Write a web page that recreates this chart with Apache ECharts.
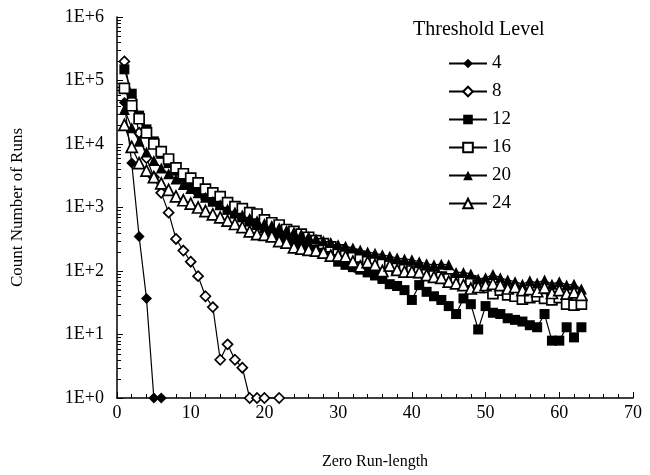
<!DOCTYPE html>
<html>
<head>
<meta charset="utf-8">
<script src="https://cdn.jsdelivr.net/npm/echarts@6/dist/echarts.min.js"></script>
<style>
  html, body { margin: 0; padding: 0; background: #fff; }
  #chart { width: 650px; height: 475px; }
</style>
</head>
<body>
<div id="chart"></div>
<script>
// run lengths 1..63
const runLength = []
for (let i = 1; i <= 63; i++) runLength.push(i)

const xTicks = [0, 10, 20, 30, 40, 50, 60, 70]
const yTicks = ['1E+0', '1E+1', '1E+2', '1E+3', '1E+4', '1E+5', '1E+6']
const levels = ['4', '8', '12', '16', '20', '24']

const level4 = [45000, 5000, 350, 37, 1, 1]
const level8 = [200000, 50000, 15000, 6000, 3000, 1700, 830, 320, 210, 140, 83, 40, 27, 4, 7, 4, 3, 1, 1, 1, null, 1]
const level12 = [150000, 62000, 28000, 17000, 11000, 7000, 5000, 3800, 3000, 2300,
  1900, 1550, 1300, 1100, 920, 800, 700, 600, 530, 470,
  420, 370, 330, 300, 270, 240, 210, 190, 170, 140,
  125, 115, 105, 95, 85, 75, 62, 58, 50, 35,
  60, 47, 40, 35, 28, 21, 37, 30, 12, 28,
  22, 21, 18, 17, 16, 14, 13, 21, 8, 8,
  13, 9, 13]
const level16 = [75000, 40000, 25000, 15000, 10000, 7600, 5800, 4200, 3400, 2900,
  2450, 1950, 1700, 1480, 1190, 1030, 960, 830, 790, 640,
  575, 530, 450, 420, 380, 340, 300, 270, 240, 215,
  195, 180, 165, 150, 140, 130, 120, 110, 105, 100,
  95, 88, 84, 80, 75, 72, 68, 70, 60, 55,
  44, 50, 42, 40, 36, 38, 40, 37, 35, 38,
  30, 29, 30]
const level20 = [35000, 18000, 11000, 7500, 5500, 4200, 3400, 2800, 2300, 2000,
  1700, 1450, 1250, 1100, 950, 850, 760, 680, 620, 560,
  520, 480, 440, 410, 380, 350, 320, 300, 280, 260,
  245, 230, 215, 200, 190, 180, 170, 160, 155, 150,
  140, 130, 125, 128, 125, 95, 95, 90, 75, 78,
  88, 78, 72, 68, 62, 70, 65, 72, 62, 68,
  60, 62, 52]
const level24 = [20000, 9000, 5000, 3800, 3000, 2400, 1900, 1500, 1300, 1150,
  1000, 880, 780, 700, 620, 550, 490, 420, 380, 370,
  350, 295, 280, 235, 225, 215, 210, 195, 175, 175,
  170, 140, 118, 138, 125, 100, 122, 104, 98, 98,
  96, 86, 81, 78, 68, 64, 60, 53, 56, 60,
  63, 60, 53, 56, 50, 52, 48, 55, 45, 50,
  44, 46, 42]

const serif = 'Liberation Serif'
const pairs = arr => arr.map((v, i) => [runLength[i], v])

function makeSeries(name, values, symbol, filled, size) {
  return {
    name: name,
    type: 'line',
    data: pairs(values),
    symbol: symbol,
    symbolSize: size,
    connectNulls: true,
    showSymbol: true,
    lineStyle: { color: '#000', width: 1.2 },
    itemStyle: {
      color: filled ? '#000' : '#fff',
      borderColor: '#000',
      borderWidth: filled ? 0 : 1.7
    },
    emphasis: { disabled: true },
    animation: false
  }
}

const chart = echarts.init(document.getElementById('chart'))

const option = {
  backgroundColor: '#fff',
  animation: false,
  title: {
    text: 'Threshold Level',
    left: 408,
    top: 15,
    textStyle: { fontFamily: serif, fontSize: 20, fontWeight: 'normal', color: '#000' }
  },
  legend: {
    orient: 'vertical',
    left: 443,
    top: 49,
    itemWidth: 38,
    itemHeight: 12,
    itemGap: 9,
    data: levels,
    textStyle: { fontFamily: serif, fontSize: 19, color: '#000' },
    selectedMode: false
  },
  grid: { left: 117, top: 17, width: 516, height: 381 },
  xAxis: {
    type: 'value',
    min: 0,
    max: 70,
    interval: 10,
    name: 'Zero Run-length',
    nameLocation: 'middle',
    nameGap: 56,
    nameTextStyle: { fontFamily: serif, fontSize: 16, color: '#000' },
    axisLine: { lineStyle: { color: '#000', width: 1.5 } },
    axisTick: { inside: true, length: 6, lineStyle: { color: '#000', width: 1 } },
    minorTick: { show: true, splitNumber: 5, length: 4, lineStyle: { color: '#000', width: 1 } },
    axisLabel: { fontFamily: serif, fontSize: 18, color: '#000', margin: 6, formatter: v => String(v) },
    splitLine: { show: false }
  },
  yAxis: {
    type: 'log',
    logBase: 10,
    min: 1,
    max: 1e6,
    name: 'Count Number of Runs',
    nameLocation: 'middle',
    nameGap: 91,
    nameTextStyle: { fontFamily: serif, fontSize: 17, color: '#000' },
    axisLine: { lineStyle: { color: '#000', width: 1.5 } },
    axisTick: { inside: true, length: 6, lineStyle: { color: '#000', width: 1 } },
    axisLabel: {
      fontFamily: serif, fontSize: 18, color: '#000', margin: 13,
      formatter: v => yTicks[Math.round(Math.log10(v))]
    },
    splitLine: { show: false }
  },
  series: [
    makeSeries('4', level4, 'diamond', true, 11),
    makeSeries('8', level8, 'diamond', false, 10),
    makeSeries('12', level12, 'rect', true, 10),
    makeSeries('16', level16, 'rect', false, 10),
    makeSeries('20', level20, 'triangle', true, 11),
    makeSeries('24', level24, 'triangle', false, 11)
  ]
}

chart.setOption(option)

// log minor ticks (2..9 per decade), placed through the y axis scale
const minorLines = []
const x0 = chart.convertToPixel({ xAxisIndex: 0 }, 0)
for (let d = 0; d < 6; d++) {
  for (let k = 2; k <= 9; k++) {
    const y = Math.round(chart.convertToPixel({ yAxisIndex: 0 }, k * Math.pow(10, d))) + 0.5
    minorLines.push({
      type: 'line',
      silent: true,
      shape: { x1: x0, y1: y, x2: x0 + 4, y2: y },
      style: { stroke: '#000', lineWidth: 1 }
    })
  }
}
chart.setOption({ graphic: minorLines })
</script>
</body>
</html>
